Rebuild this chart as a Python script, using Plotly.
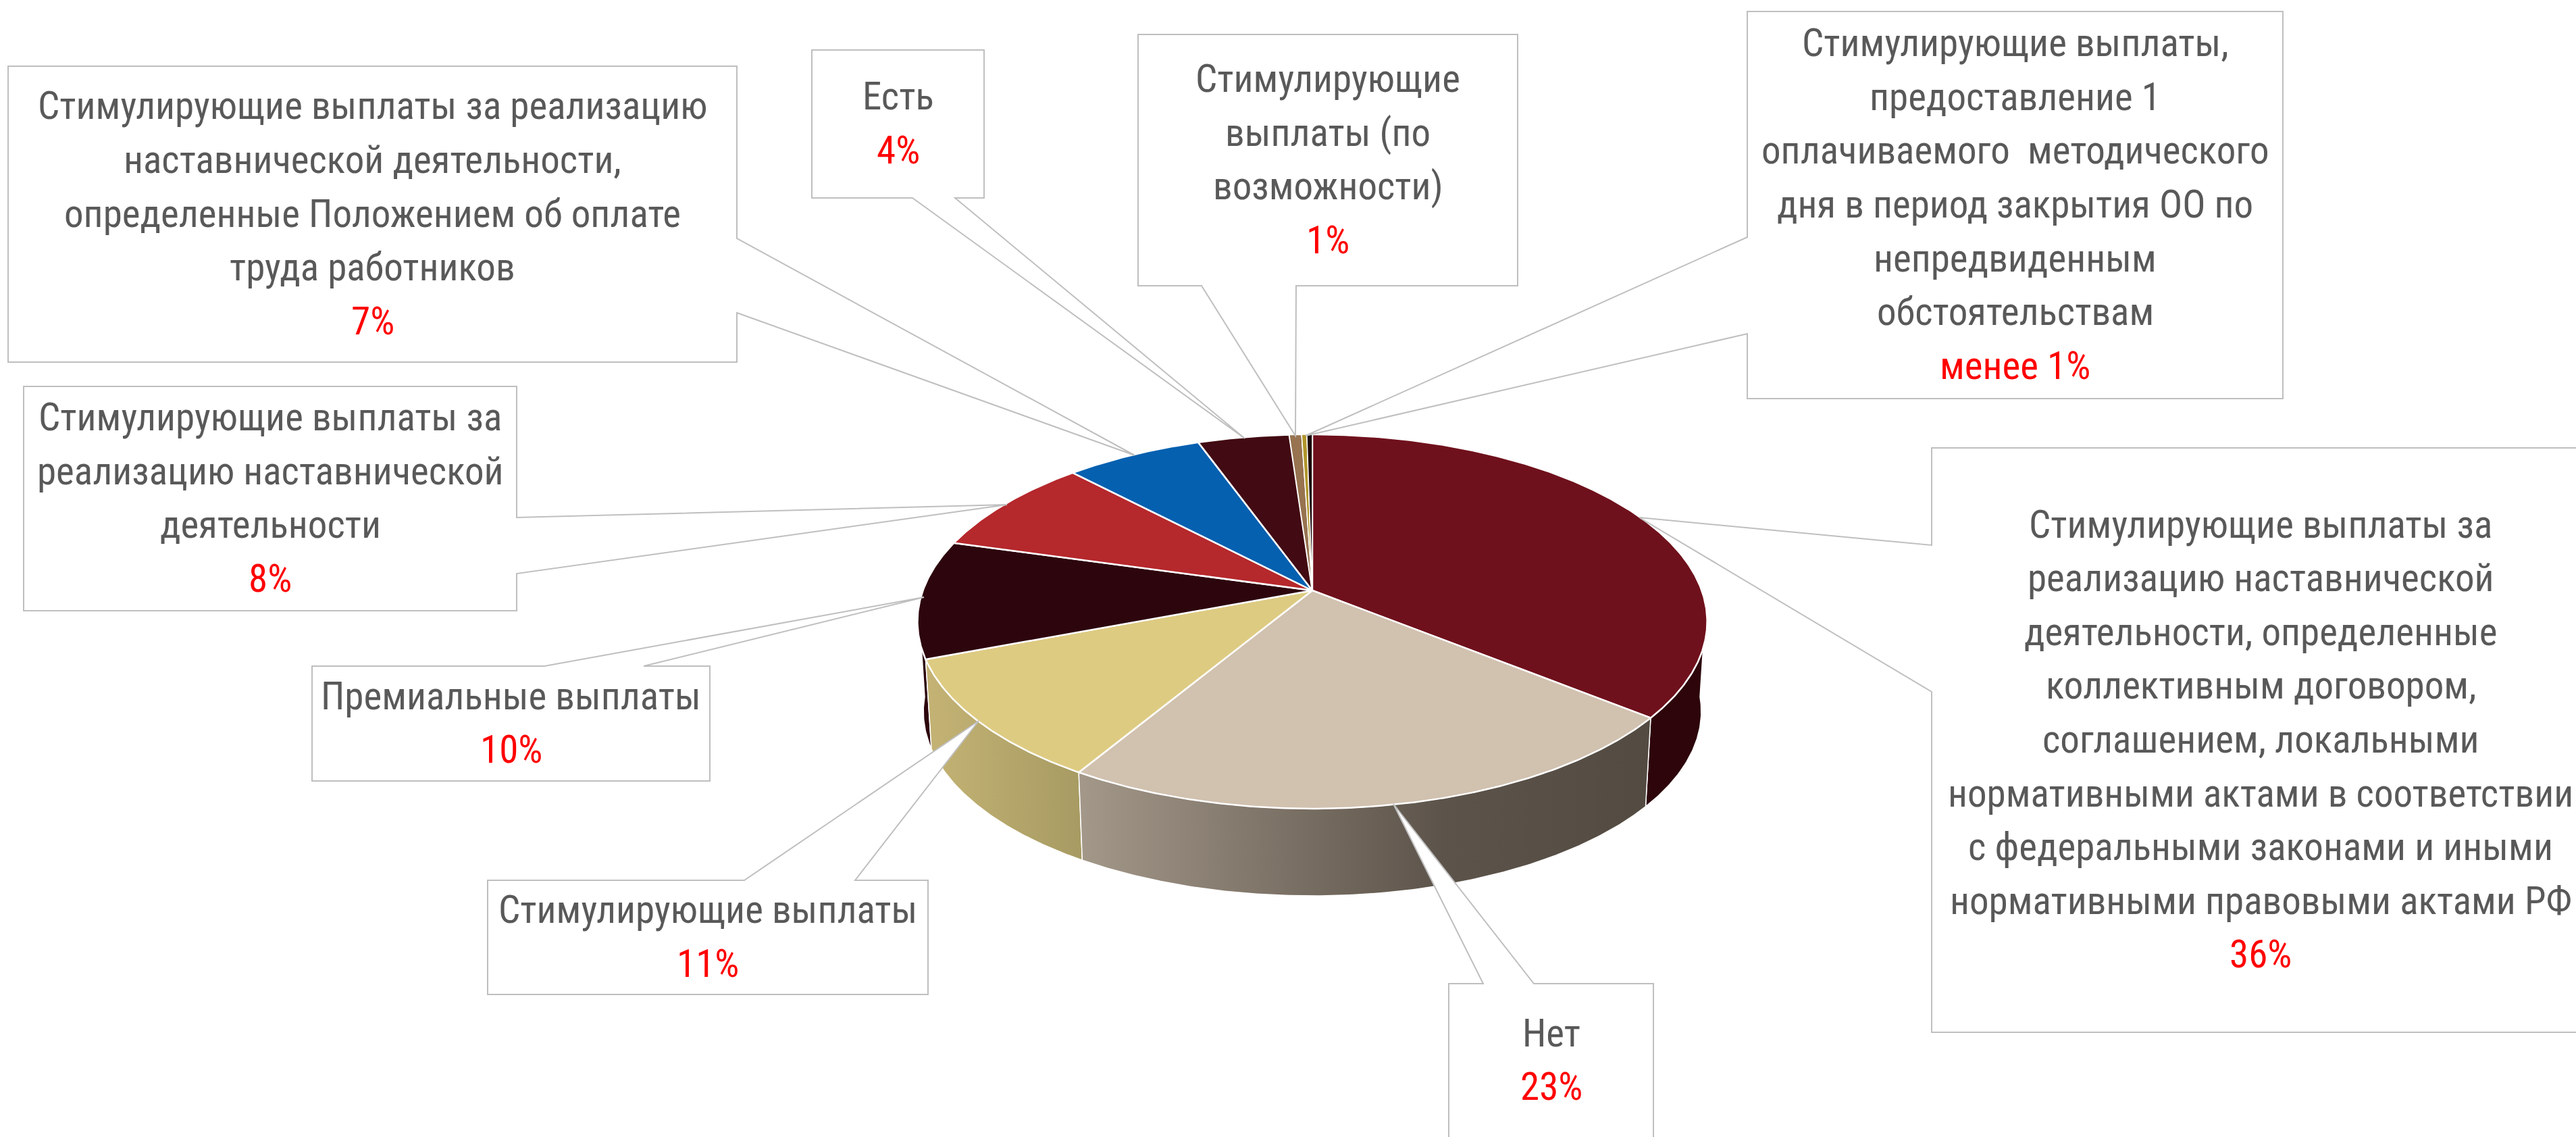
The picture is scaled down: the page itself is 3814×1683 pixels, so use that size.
import numpy as np
import plotly.graph_objects as go

# ---------- data ----------
categories = ["Коллективный договор", "Нет", "Стимулирующие выплаты", "Премиальные выплаты",
              "За наставническую деятельность", "Положение об оплате труда", "Есть",
              "По возможности", "Методический день", "Прочее"]
shares = [35.8, 22.8, 10.6, 10.2, 8.5, 6.6, 4.4, 0.59, 0.25, 0.26]
top_colors = ["#6f111c", "#d1c1af", "#decb82", "#2d050d", "#b5282c", "#0560b0", "#420a12",
              "#977350", "#b1962c", "#1a0508"]

label_lines = [
    ["Стимулирующие выплаты за", "реализацию наставнической", "деятельности, определенные",
     "коллективным договором,", "соглашением, локальными", "нормативными актами в соответствии",
     "с федеральными законами и иными", "нормативными правовыми актами РФ"],
    ["Нет"],
    ["Стимулирующие выплаты"],
    ["Премиальные выплаты"],
    ["Стимулирующие выплаты за", "реализацию наставнической", "деятельности"],
    ["Стимулирующие выплаты за реализацию", "наставнической деятельности,",
     "определенные Положением об оплате", "труда работников"],
    ["Есть"],
    ["Стимулирующие", "выплаты (по", "возможности)"],
    ["Стимулирующие выплаты,", "предоставление 1", "оплачиваемого  методического",
     "дня в период закрытия ОО по", "непредвиденным", "обстоятельствам"],
]
label_values = ["36%", "23%", "11%", "10%", "8%", "7%", "4%", "1%", "менее 1%"]

# ---------- layout of the picture (pixels) ----------
W, H = 3814, 1683
CX, CY, RX, RY, K = 1943, 874, 576.5, 269.3, 0.166
DEPTH, BASE_SCALE = 134, 0.985
VISIBLE_WALL = (95, 265)
TEXT_FONT = "Roboto Condensed"
TEXT_SIZE = 57
LINE_PITCH = 79.6
TEXT_COLOR = "#595959"
BORDER = "#bfbfbf"

# box: left, top, right, bottom; tail: side, a, b, tip
boxes = [
    (2860, 663, 3834, 1528, "left", 807, 1024, (2427, 766)),
    (2145, 1456, 2448, 1684, "top", 2196, 2271, (2063, 1190)),
    (722, 1303, 1374, 1472, "top", 1102, 1266, (1449, 1067)),
    (462, 986, 1051, 1156, "top", 806, 953, (1368, 884)),
    (35, 572, 765, 904, "right", 766, 849, (1491, 747)),
    (12, 98, 1091, 536, "right", 353, 463, (1680, 674)),
    (1202, 74, 1457, 293, "bottom", 1351, 1414, (1843, 649)),
    (1685, 51, 2247, 423, "bottom", 1779, 1919, (1918, 645)),
    (2587, 17, 3380, 590, "left", 351, 494, (1933, 645)),
]

wall_styles = {
    0: dict(fillcolor="#2d050b"),
    3: dict(fillcolor="#2d050d"),
    2: dict(fillgradient=dict(type="horizontal",
                              colorscale=[[0, "#c4b374"], [1, "#a79b63"]])),
    1: dict(fillgradient=dict(type="horizontal",
                              colorscale=[[0, "#a39889"], [0.64, "#5c534a"], [1, "#534b42"]])),
}


def project(deg, scale=1.0, shift=0.0):
    t = np.radians(deg)
    w = 1 + K * np.cos(t)
    return CX + scale * RX * np.sin(t) / w, CY + shift - scale * RY * np.cos(t) / w


def arc(a, b):
    return np.linspace(a, b, max(int(abs(b - a) * 2), 2) + 1)


edges = np.concatenate([[0], np.cumsum(shares)]) / sum(shares) * 360
fig = go.Figure()

# side walls, only the front-facing part
for i in [0, 3, 2, 1]:
    a, b = max(edges[i], VISIBLE_WALL[0]), min(edges[i + 1], VISIBLE_WALL[1])
    if b <= a:
        continue
    th = arc(a, b)
    x1, y1 = project(th)
    x2, y2 = project(th[::-1], BASE_SCALE, DEPTH)
    fig.add_trace(go.Scatter(x=np.r_[x1, x2, x1[0]], y=np.r_[y1, y2, y1[0]], mode="lines",
                             fill="toself", line=dict(color="white", width=1.5),
                             hoverinfo="skip", showlegend=False, name=categories[i],
                             **wall_styles[i]))

# top faces
for i, name in enumerate(categories):
    th = arc(edges[i], edges[i + 1])
    x, y = project(th)
    fig.add_trace(go.Scatter(x=np.r_[CX, x, CX], y=np.r_[CY, y, CY], mode="lines",
                             fill="toself", fillcolor=top_colors[i],
                             line=dict(color="white", width=2.5 if shares[i] > 1 else 1.5),
                             hoverinfo="skip", showlegend=False, name=name))

# callouts
shapes = []
for (l, t, r, b, side, p, q, tip) in boxes:
    tx, ty = tip
    if side == "left":
        pts = [(l, t), (r, t), (r, b), (l, b), (l, q), (tx, ty), (l, p)]
    elif side == "right":
        pts = [(l, t), (r, t), (r, p), (tx, ty), (r, q), (r, b), (l, b)]
    elif side == "top":
        pts = [(l, t), (p, t), (tx, ty), (q, t), (r, t), (r, b), (l, b)]
    else:
        pts = [(l, t), (r, t), (r, b), (q, b), (tx, ty), (p, b), (l, b)]
    path = "M " + " L ".join(f"{x} {y}" for x, y in pts) + " Z"
    shapes.append(dict(type="path", path=path, xref="x", yref="y", fillcolor="white",
                       line=dict(color=BORDER, width=2), layer="above"))

annotations = []
for lines, val, box in zip(label_lines, label_values, boxes):
    l, t, r, b = box[:4]
    rows = lines + [val]
    colors = [TEXT_COLOR] * len(lines) + ["#ff0000"]
    y0 = (t + b) / 2 - LINE_PITCH * (len(rows) - 1) / 2 - 1
    for j, (row, col) in enumerate(zip(rows, colors)):
        annotations.append(dict(x=(l + r) / 2, y=y0 + j * LINE_PITCH, xref="x", yref="y", text=row,
                                showarrow=False, align="center", xanchor="center", yanchor="middle",
                                font=dict(family=TEXT_FONT, size=TEXT_SIZE, color=col)))

fig.update_layout(width=W, height=H, margin=dict(l=0, r=0, t=0, b=0, pad=0, autoexpand=False),
                  paper_bgcolor="white", plot_bgcolor="white", shapes=shapes,
                  annotations=annotations, showlegend=False,
                  xaxis=dict(range=[0, W], visible=False, fixedrange=True),
                  yaxis=dict(range=[H, 0], visible=False, fixedrange=True))

fig.write_html("out.html", post_script="document.body.style.margin='0';document.body.style.overflow='hidden';",
               config=dict(displayModeBar=False))
